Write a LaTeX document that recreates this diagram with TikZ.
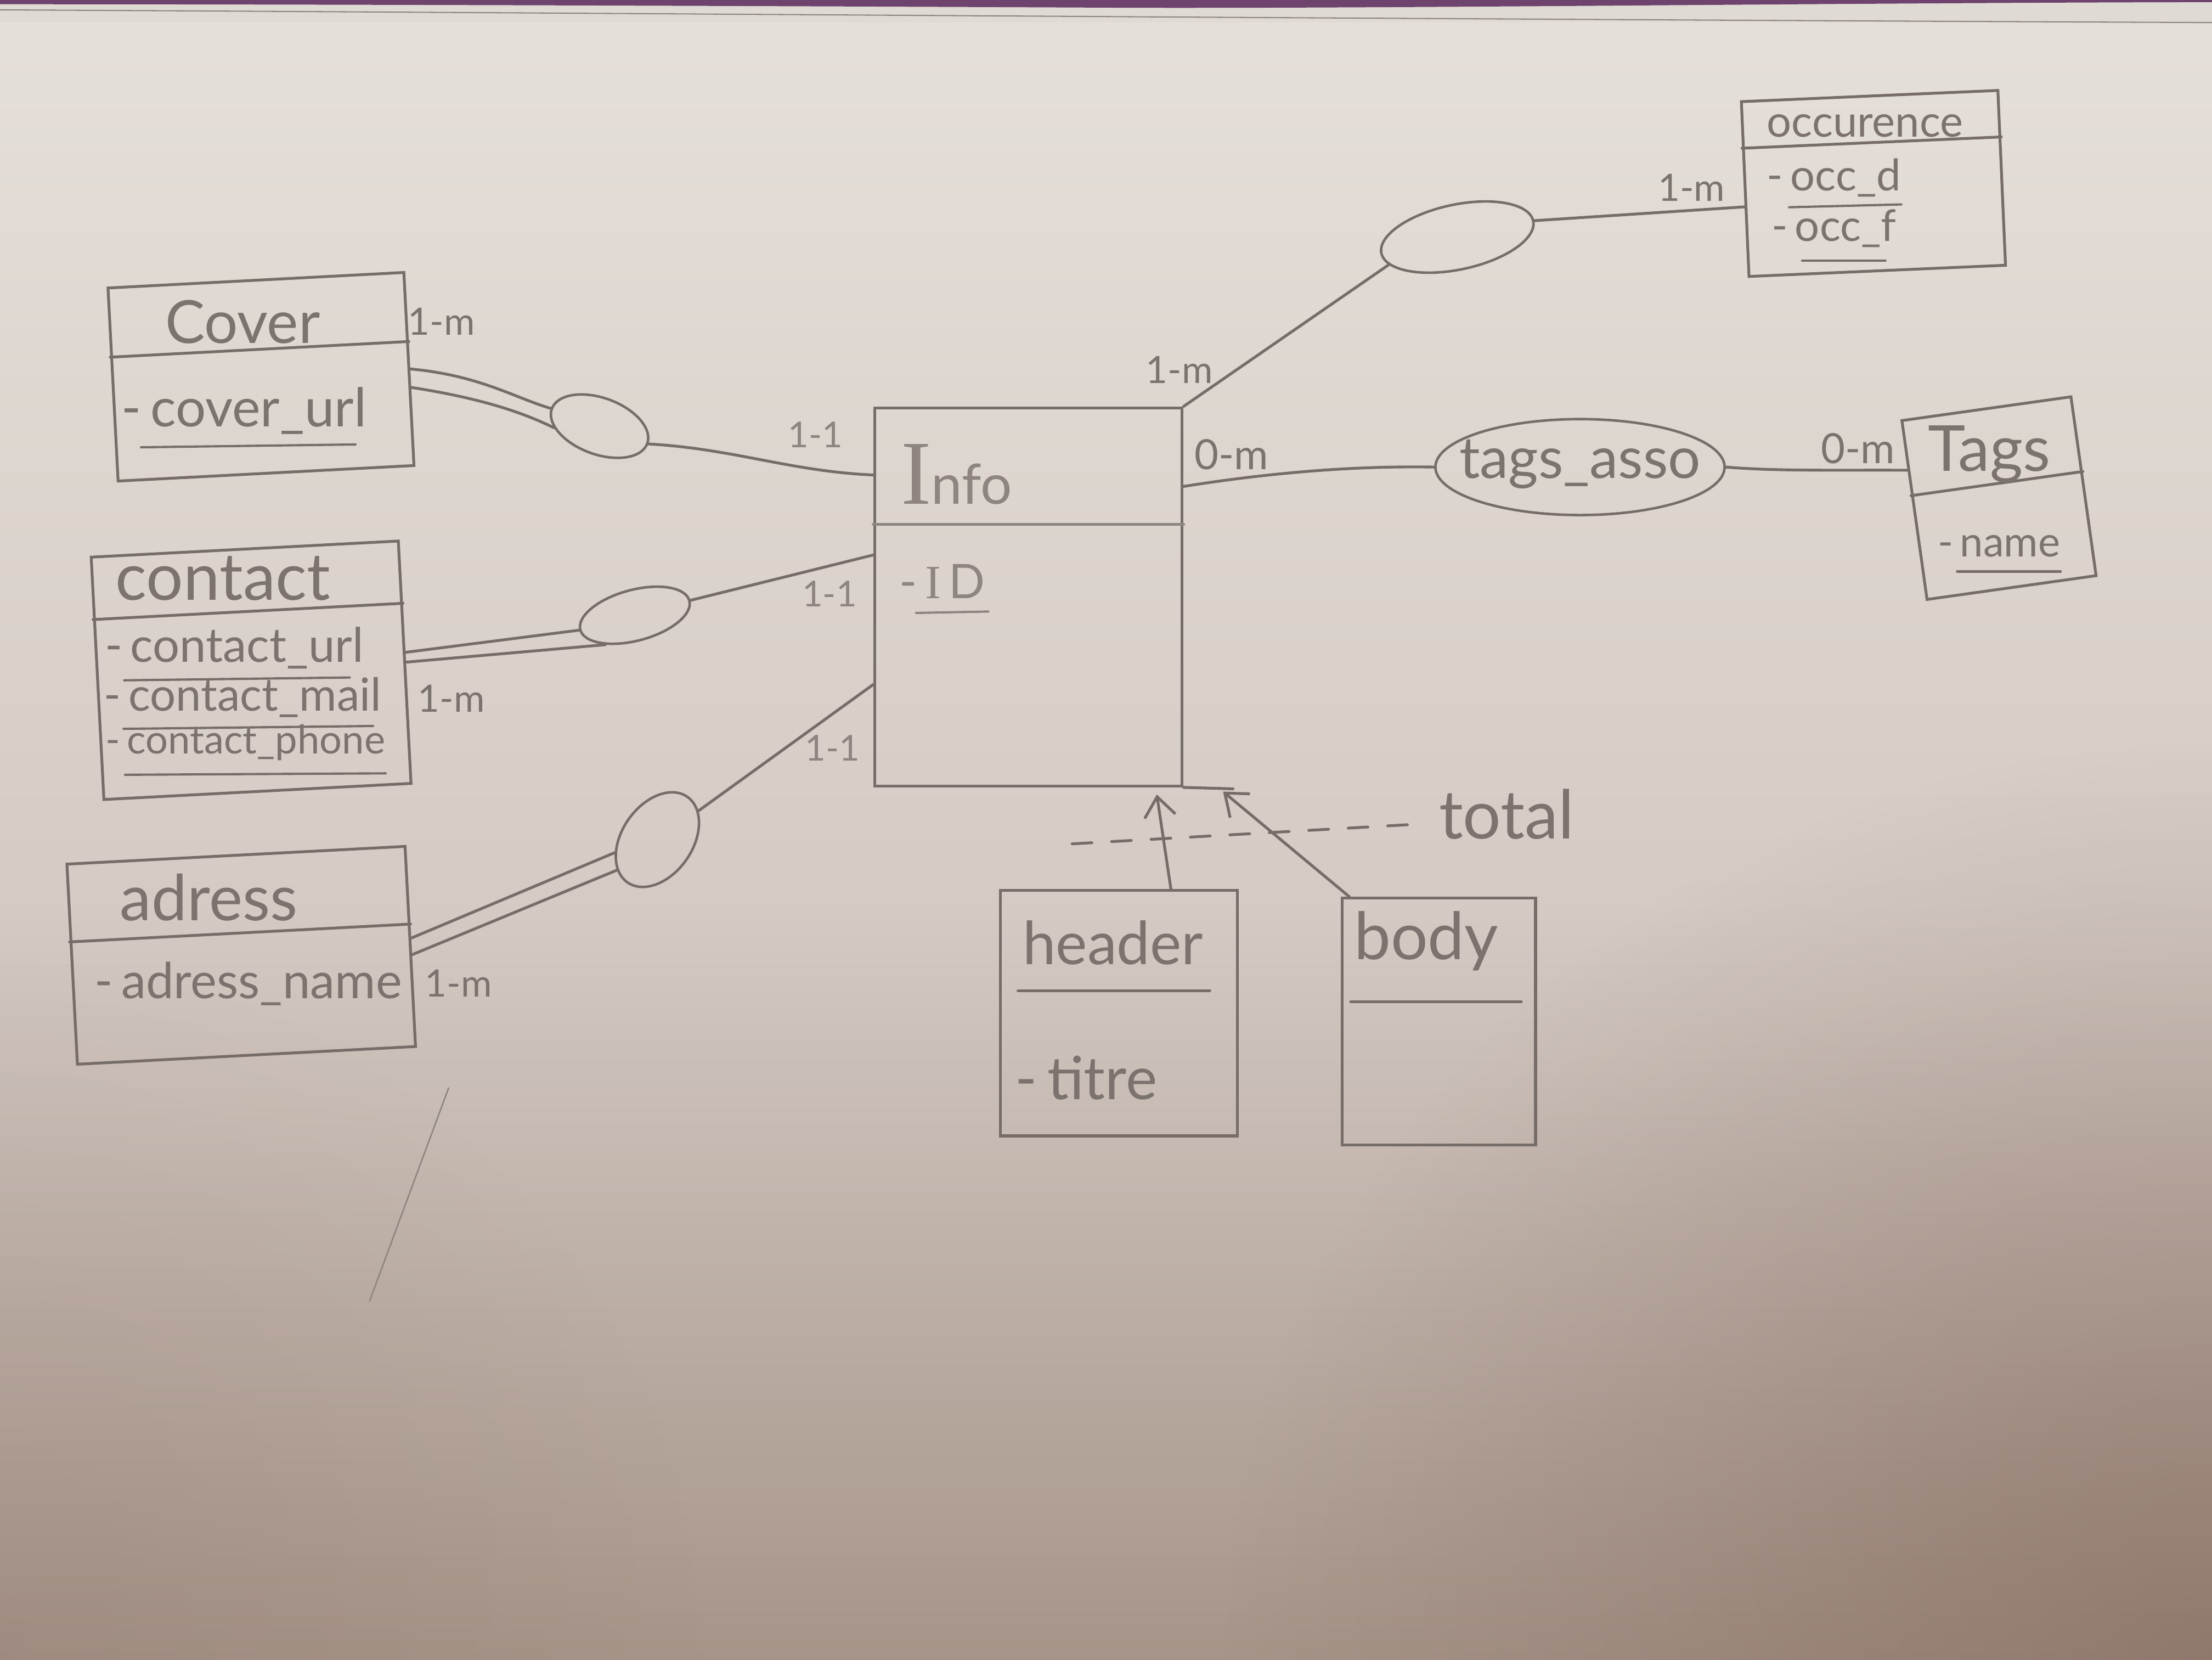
\documentclass[tikz,border=0pt]{standalone}
\usepackage{fontspec}
\setmainfont{Lato}
\newfontfamily\serifI{Liberation Serif}
\usetikzlibrary{shapes.geometric,calc,arrows.meta,fadings}

\definecolor{paperTop}{RGB}{230,224,218}
\definecolor{paperMid}{RGB}{212,203,196}
\definecolor{paperBot}{RGB}{166,148,137}
\definecolor{shadeBrown}{RGB}{118,86,76}
\definecolor{pencil}{RGB}{118,109,104}
\definecolor{pencilText}{RGB}{124,115,110}
\definecolor{pencilLight}{RGB}{142,133,128}
\definecolor{binder}{RGB}{110,68,110}
\definecolor{stripPaper}{RGB}{224,218,212}

\tikzfading[name=corner fade, inner color=transparent!0, outer color=transparent!100]
\newcommand{\fsz}[1]{\fontsize{#1}{#1}\selectfont}

\begin{document}
\begin{tikzpicture}[x=0.25mm, y=-0.25mm,
  pen/.style={draw=pencil, line width=0.5mm, line cap=round, line join=round},
  ul/.style={draw=pencil, line width=0.4mm, line cap=round},
  entity/.style 2 args={rectangle, draw=pencil, line width=0.5mm, inner sep=0pt,
    minimum width=#1*0.25mm, minimum height=#2*0.25mm},
  rel/.style 2 args={ellipse, draw=pencil, line width=0.45mm, inner sep=0pt,
    minimum width=#1*0.25mm, minimum height=#2*0.25mm},
  txt/.style={text=pencilText, inner sep=0pt},
  soft/.style={text=pencilLight, inner sep=0pt},
  card/.style={txt, font=\fsz{19}},
  tip/.style={-{Straight Barb[length=3.5mm,width=5.5mm]}}
]
\useasboundingbox (0,0) rectangle (1568,1176);

% paper sheet: light upper part, darker towards the bottom
\fill[top color=paperTop, bottom color=paperMid] (0,0) rectangle (1568,640);
\fill[top color=paperMid, bottom color=paperBot] (0,639) rectangle (1568,1176);
\begin{scope}
  \clip (0,0) rectangle (1568,1176);
  \fill[shadeBrown, path fading=corner fade, opacity=0.45] (1568,1176) ellipse [x radius=700, y radius=650];
  \fill[shadeBrown, path fading=corner fade, opacity=0.15] (0,1176) ellipse [x radius=500, y radius=500];
  % notebook edge and cover at the top
  \fill[stripPaper] (0,0) rectangle (1568,16);
  \draw[pencilLight, line width=0.2mm] (0,7) .. controls (400,9) and (900,13) .. (1568,16);
  \fill[binder] (0,0) -- (1568,0) -- (1568,1.5) .. controls (1300,2) and (1000,6) .. (800,5.5)
    .. controls (500,4) and (200,3) .. (0,3) -- cycle;
\end{scope}

% a stray pencil stroke
\coordinate (strayA) at (318,771);
\coordinate (strayB) at (262,922);
\draw[pencilLight, line width=0.25mm, line cap=round] (strayA) -- (strayB);

% ---------- entities ----------
\node[entity={210}{137}, rotate=3] (cover) at (185,267) {};
\node[entity={218}{172}, rotate=3] (contact) at (178,475) {};
\node[entity={240}{142}, rotate=3] (adress) at (171,677) {};
\node[entity={218}{268}] (info) at (729,423) {};
\node[entity={182}{124}, rotate=2.5] (occ) at (1328,130) {};
\node[entity={121}{128}, rotate=8] (tags) at (1417,353) {};
\node[entity={168}{174}] (header) at (793,718) {};
\node[entity={137}{175}] (body) at (1020,724) {};

% compartment separators
\draw[pen] ($(cover.north west)!0.36!(cover.south west)$) -- ($(cover.north east)!0.36!(cover.south east)$);
\draw[pen] ($(contact.north west)!0.26!(contact.south west)$) -- ($(contact.north east)!0.26!(contact.south east)$);
\draw[pen] ($(adress.north west)!0.39!(adress.south west)$) -- ($(adress.north east)!0.39!(adress.south east)$);
\draw[pen, draw=pencilLight] ($(info.north west)!0.31!(info.south west)$) -- ($(info.north east)!0.31!(info.south east)$);
\draw[pen] ($(occ.north west)!0.27!(occ.south west)$) -- ($(occ.north east)!0.27!(occ.south east)$);
\draw[pen] ($(tags.north west)!0.42!(tags.south west)$) -- ($(tags.north east)!0.42!(tags.south east)$);
\coordinate (hdl) at ($(header.north west)!0.41!(header.south west)$);
\coordinate (hdr) at ($(header.north east)!0.41!(header.south east)$);
\draw[pen] ($(hdl)!0.08!(hdr)$) -- ($(hdl)!0.88!(hdr)$);
\coordinate (bdl) at ($(body.north west)!0.42!(body.south west)$);
\coordinate (bdr) at ($(body.north east)!0.42!(body.south east)$);
\draw[pen] ($(bdl)!0.05!(bdr)$) -- ($(bdl)!0.92!(bdr)$);

% ---------- entity titles and attributes ----------
\node[txt, font=\fsz{30}] (coverT) at (172,228) {Cover};
\node[txt, font=\fsz{27}] (coverA) at (173,291) {-\,cover\_url};
\draw[ul] ($(coverA.south west)+(14,9)$) -- ($(coverA.south east)+(-8,7)$);

\node[txt, font=\fsz{33}] (contactT) at (158,410) {contact};
\node[txt, font=\fsz{24}] (contactA) at (166,459) {-\,contact\_url};
\draw[ul] ($(contactA.south west)+(14,8)$) -- ($(contactA.south east)+(-10,6)$);
\node[txt, font=\fsz{23}] (contactB) at (172,494) {-\,contact\_mail};
\draw[ul] ($(contactB.south west)+(14,8)$) -- ($(contactB.south east)+(-6,6)$);
\node[txt, font=\fsz{20}] (contactC) at (174,526) {-\,contact\_phone};
\draw[ul] ($(contactC.south west)+(14,10)$) -- ($(contactC.south east)+(0,9)$);

\node[txt, font=\fsz{32}] (adressT) at (148,636) {adress};
\node[txt, font=\fsz{25}] (adressA) at (176,697) {-\,adress\_name};

\node[soft] (infoT) at (678,336) {{\serifI\fsz{46}I}{\fsz{28}nfo}};
\node[soft, font=\fsz{24}] (infoA) at (668,412) {-\,{\serifI I}\,D};
\draw[ul, draw=pencilLight] ($(infoA.south west)+(12,10)$) -- ($(infoA.south east)+(2,9)$);

\node[txt, font=\fsz{22}] (occT) at (1322,89) {occurence};
\node[txt, font=\fsz{22}] (occA) at (1300,126) {-\,occ\_d};
\draw[ul] ($(occA.south west)+(16,7)$) -- ($(occA.south east)+(0,5)$);
\node[txt, font=\fsz{22}] (occB) at (1300,162) {-\,occ\_f};
\draw[ul] ($(occB.south west)+(22,9)$) -- ($(occB.south east)+(-8,9)$);

\node[txt, font=\fsz{32}] (tagsT) at (1410,322) {Tags};
\node[txt, font=\fsz{21}] (tagsA) at (1417,387) {-\,name};
\draw[ul] ($(tagsA.south west)+(14,10)$) -- ($(tagsA.south east)+(0,10)$);

\node[txt, font=\fsz{30}] (headerT) at (789,668) {header};
\node[txt, font=\fsz{30}] (headerA) at (770,764) {-\,titre};
\node[txt, font=\fsz{33}] (bodyT) at (1011,667) {body};

% ---------- relationships ----------
\node[rel={72}{40}, rotate=-20] (e1) at (425,302) {};
\node[rel={80}{36}, rotate=15] (e2) at (450,436) {};
\node[rel={74}{50}, rotate=55] (e3) at (466,595) {};
\node[rel={110}{46}, rotate=12] (e4) at (1033,168) {};
\node[rel={205}{68}] (e5) at (1120,331) {};
\node[txt, font=\fsz{29}] (assoT) at (1120,329) {tags\_asso};

% Cover -- Info
\draw[pen] (cover.east) .. controls (340,266) and (365,282) .. (e1.west);
\draw[pen] ([yshift=-3.25mm]cover.east) .. controls (340,282) and (370,292) .. (e1.202);
\draw[pen] (e1.east) .. controls (520,318) and (560,334) .. ($(info.north west)!0.18!(info.south west)$);
% contact -- Info
\draw[pen] ([yshift=1.75mm]contact.east) -- (e2.west);
\draw[pen] (contact.east) -- (e2.210);
\draw[pen] (e2.east) -- ($(info.north west)!0.39!(info.south west)$);
% adress -- Info
\draw[pen] ([yshift=1.5mm]adress.east) -- (e3.142);
\draw[pen] ([yshift=-1.5mm]adress.east) -- (e3.162);
\draw[pen] (e3.340) -- ($(info.north west)!0.73!(info.south west)$);
% Info -- occurence
\draw[pen] (info.north east) -- (e4.190);
\draw[pen] (e4.east) -- ($(occ.north west)!0.6!(occ.south west)$);
% Info -- Tags
\draw[pen] ($(info.north east)!0.21!(info.south east)$) .. controls (900,335) and (960,330) .. (e5.west);
\draw[pen] (e5.east) .. controls (1260,334) and (1300,333) .. ($(tags.north west)!0.28!(tags.south west)$);

% cardinalities
\node[card] (k1) at (313,228) {1-m};
\node[card, text=pencilLight, font=\fsz{18}] (k2) at (578,308) {1-1};
\node[card, text=pencilLight, font=\fsz{18}] (k3) at (588,421) {1-1};
\node[card] (k4) at (320,495) {1-m};
\node[card, text=pencilLight, font=\fsz{18}] (k5) at (590,530) {1-1};
\node[card] (k6) at (325,697) {1-m};
\node[card] (k7) at (836,262) {1-m};
\node[card] (k8) at (1199,133) {1-m};
\node[card, font=\fsz{21}] (k9) at (873,322) {0-m};
\node[card, font=\fsz{21}] (k10) at (1317,318) {0-m};

% ---------- specialisation ----------
\coordinate (barEnd) at (874,559);
\draw[pen] (info.south east) -- (barEnd);
\coordinate (hTip) at (820,563);
\coordinate (bTip) at (867,561);
\draw[pen, tip] ([xshift=9.25mm]header.north) -- (hTip);
\draw[pen, tip] ([xshift=1.5mm]body.north west) -- (bTip);
\node[txt, font=\fsz{34}] (total) at (1068,577) {total};
\coordinate (dashStart) at (760,598);
\draw[pen, dash pattern=on 3.5mm off 3.5mm] (dashStart) -- ($(total.west)+(-14,7)$);

\end{tikzpicture}
\end{document}
